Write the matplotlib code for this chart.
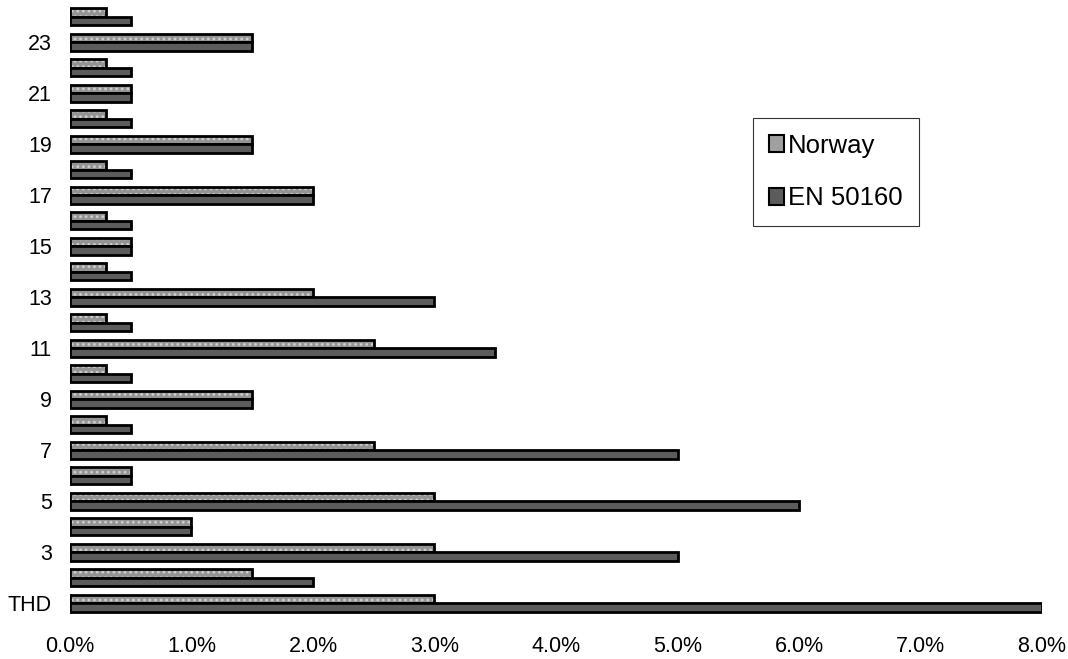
import numpy as np
import matplotlib
matplotlib.use("Agg")
import matplotlib.pyplot as plt
from matplotlib.patches import Patch
from matplotlib.ticker import PercentFormatter

plt.rcParams['font.family'] = ['Liberation Sans', 'DejaVu Sans']

# harmonic orders, THD first
orders = ["THD"] + [str(n) for n in range(2, 25)]
norway = [3.0, 1.5, 3.0, 1.0, 3.0, 0.5, 2.5, 0.3, 1.5, 0.3, 2.5, 0.3,
          2.0, 0.3, 0.5, 0.3, 2.0, 0.3, 1.5, 0.3, 0.5, 0.3, 1.5, 0.3]
en50160 = [8.0, 2.0, 5.0, 1.0, 6.0, 0.5, 5.0, 0.5, 1.5, 0.5, 3.5, 0.5,
           3.0, 0.5, 0.5, 0.5, 2.0, 0.5, 1.5, 0.5, 0.5, 0.5, 1.5, 0.5]
xticks = [0, 1, 2, 3, 4, 5, 6, 7, 8]

fig = plt.figure(figsize=(10.68, 6.59), dpi=100)
ax = fig.add_axes([0.0655, 0.065, 0.9102, 0.929])

y = np.arange(len(orders))
h = 0.33

# Norway: light grey with speckle texture
plt.rcParams['hatch.linewidth'] = 1.2
ax.barh(y + h / 2, norway, height=h, color="#949494", edgecolor="#cfcfcf",
        hatch="...", linewidth=0)
ax.barh(y + h / 2, norway, height=h, fill=False, edgecolor="black", linewidth=2)
# EN 50160: dark grey
ax.barh(y - h / 2, en50160, height=h, color="#5c5c5c", edgecolor="black", linewidth=2)

ax.set_xlim(0, 8)
ax.set_ylim(-0.5, len(orders) - 0.5)
ax.set_xticks(xticks)
ax.xaxis.set_major_formatter(PercentFormatter(decimals=1))
ax.set_yticks(y[::2])
ax.set_yticklabels(orders[::2])
ax.tick_params(length=0, labelsize=15.5)
ax.tick_params(axis='x', pad=14)
ax.tick_params(axis='y', pad=13)
for s in ax.spines.values():
    s.set_visible(False)

handles = [Patch(facecolor="#a0a0a0", edgecolor="black", linewidth=1.5),
           Patch(facecolor="#5c5c5c", edgecolor="black", linewidth=1.5)]
leg = ax.legend(handles, ["Norway", "EN 50160"], loc="upper left",
                bbox_to_anchor=(0.7027, 0.8137), fontsize=18.5, frameon=True,
                fancybox=False, edgecolor="black", handlelength=0.6,
                handleheight=0.65, handletextpad=0.15, labelspacing=1.1,
                borderpad=0.62, borderaxespad=0)
leg.get_frame().set_linewidth(0.8)

fig.savefig("out.png", dpi=100)
